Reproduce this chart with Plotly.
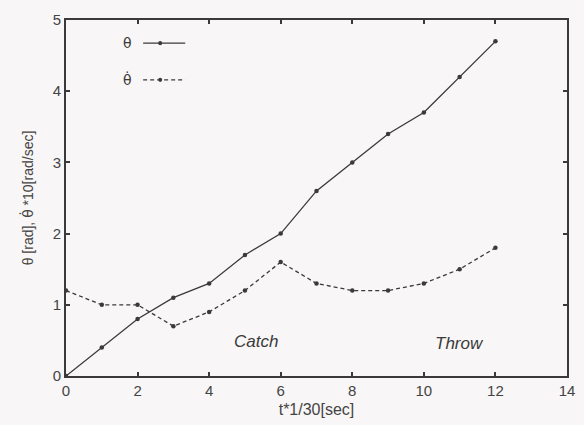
import plotly.graph_objects as go

t = [0, 1, 2, 3, 4, 5, 6, 7, 8, 9, 10, 11, 12]
theta = [0.0, 0.4, 0.8, 1.1, 1.3, 1.7, 2.0, 2.6, 3.0, 3.4, 3.7, 4.2, 4.7]
theta_dot = [1.2, 1.0, 1.0, 0.7, 0.9, 1.2, 1.6, 1.3, 1.2, 1.2, 1.3, 1.5, 1.8]
x_ticks = [0, 2, 4, 6, 8, 10, 12, 14]
y_ticks = [0, 1, 2, 3, 4, 5]
labels = [("Catch", 5.3, 0.48), ("Throw", 11.0, 0.46)]

ink = "#3a3a3a"
font = "Liberation Sans, Arial, Helvetica, sans-serif"
dj = "font-family:'DejaVu Sans'"

fig = go.Figure()
fig.add_trace(go.Scatter(x=t, y=theta, mode="lines+markers",
                         line=dict(color=ink, width=1.3),
                         marker=dict(color=ink, size=4.5), showlegend=False))
fig.add_trace(go.Scatter(x=t, y=theta_dot, mode="lines+markers",
                         line=dict(color=ink, width=1.3, dash="4px,3px"),
                         marker=dict(color=ink, size=4.5), showlegend=False))

for txt, xx, yy in labels:
    fig.add_annotation(x=xx, y=yy, text=txt, showarrow=False,
                       font=dict(family=font, size=17, color=ink, style="italic"))

# manual legend (text left of symbol)
leg = [("θ", "solid", 0.935), ("θ̇", "4px,3px", 0.832)]
for name, dash, yp in leg:
    fig.add_shape(type="line", xref="paper", yref="paper",
                  x0=0.154, x1=0.238, y0=yp, y1=yp,
                  line=dict(color=ink, width=1.3, dash=dash))
    fig.add_shape(type="circle", xref="paper", yref="paper",
                  x0=0.184, x1=0.192, y0=yp - 0.006, y1=yp + 0.006,
                  fillcolor=ink, line=dict(color=ink, width=0))
    fig.add_annotation(xref="paper", yref="paper", x=0.122, y=yp,
                       xanchor="center", yanchor="middle",
                       text=f"<span style=\"{dj}\">{name}</span>", showarrow=False,
                       font=dict(family=font, size=14, color=ink))

axis_common = dict(showline=True, linecolor=ink, linewidth=2, mirror="ticks",
                   ticks="inside", ticklen=4, tickwidth=2, tickcolor=ink,
                   showgrid=False, zeroline=False, automargin=False,
                   tickfont=dict(family=font, size=15, color="#444"))

fig.update_xaxes(range=[0, 14], tickvals=x_ticks,
                 title=dict(text="t*1/30[sec]", standoff=6,
                            font=dict(family=font, size=16, color="#444")),
                 **axis_common)
fig.update_yaxes(range=[0, 5], tickvals=y_ticks,
                 title=dict(text=f"θ [rad], <span style=\"{dj}\">θ̇</span> *10[rad/sec]", standoff=16,
                            font=dict(family=font, size=14, color="#444")),
                 **axis_common)

fig.update_layout(width=584, height=425,
                  margin=dict(l=66, r=17, t=20, b=49),
                  paper_bgcolor="#f8f6f6", plot_bgcolor="#f8f6f6")

fig.write_html("out.html", config={"displayModeBar": False},
               post_script="document.body.style.margin='0';document.body.style.background='#f8f6f6';")
